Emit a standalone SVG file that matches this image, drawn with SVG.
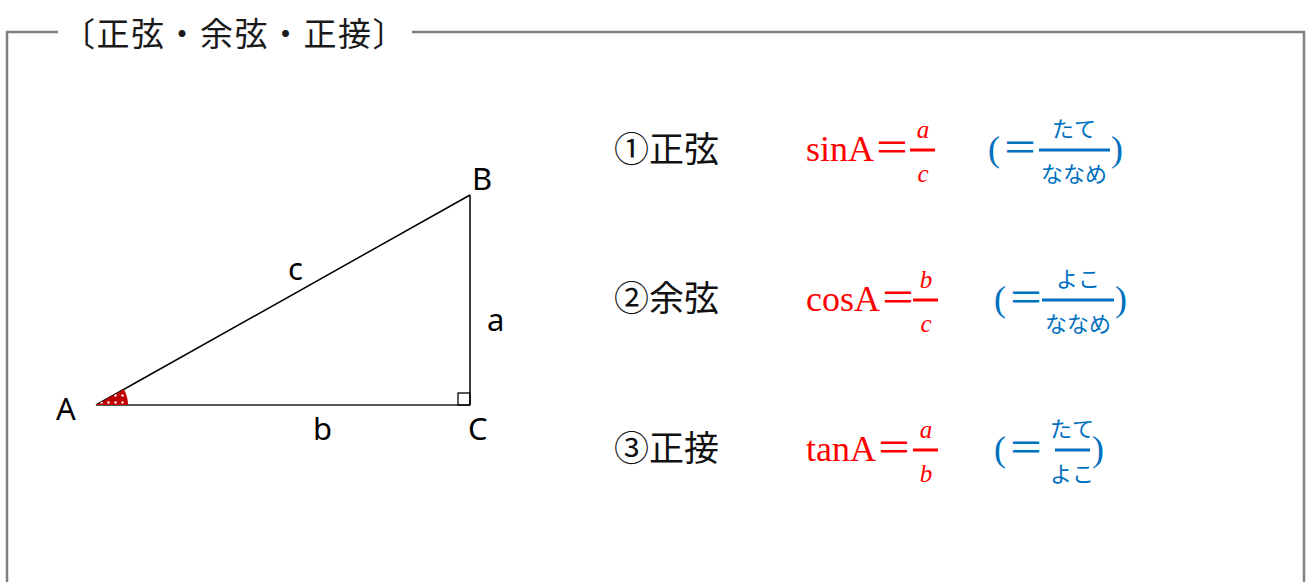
<svg xmlns="http://www.w3.org/2000/svg" width="1307" height="582" viewBox="0 0 1307 582">
<defs>
<style>
.frame{fill:none;stroke:#808080;stroke-width:2.5}
.title{font-family:"Liberation Serif","Noto Sans CJK JP",serif;font-size:33px;letter-spacing:1.5px;fill:#1a1a1a}
.lbl{font-family:"Noto Sans","Noto Sans CJK JP",sans-serif;font-size:31px;fill:#000}
.row{font-family:"Liberation Serif","Noto Sans CJK JP",serif;font-size:35px;fill:#111}
.red{font-family:"Liberation Serif","Noto Sans CJK JP",serif;font-size:36px;fill:#FF0000}
.redi{font-family:"Liberation Serif",serif;font-style:italic;font-size:25px;fill:#FF0000}
.blue{font-family:"Liberation Serif","Noto Sans CJK JP",serif;font-size:36px;fill:#0070C0}
.kana{font-family:"Noto Sans CJK JP",sans-serif;font-size:22px;fill:#0070C0}
.rbar{stroke:#FF0000;stroke-width:3}
.bbar{stroke:#0070C0;stroke-width:3}
</style>
<pattern id="dots" width="7" height="7" patternUnits="userSpaceOnUse">
<rect width="7" height="7" fill="#C00000"/>
<circle cx="3.5" cy="3.5" r="1.2" fill="#fff"/>
</pattern>
</defs>
<rect width="1307" height="582" fill="#fff"/>
<g id="frame">
<path class="frame" d="M58,32 H7 V582 M412,32 H1304 V582"/>
<text class="title" x="62" y="46">〔正弦・余弦・正接〕</text>
</g>
<g id="connectors">
<line x1="96" y1="405" x2="470" y2="195" stroke="#000" stroke-width="1.5"/>
<line x1="470" y1="195" x2="470" y2="405" stroke="#000" stroke-width="1.5"/>
<line x1="96" y1="405" x2="470" y2="405" stroke="#595959" stroke-width="2"/>
<rect x="458" y="393" width="12" height="12" fill="none" stroke="#000" stroke-width="1.3"/>
<path d="M96,405 L128,405 A32,32 0 0 0 123.9,389.3 Z" fill="url(#dots)"/>
</g>
<g id="node-A"><text class="lbl" x="56" y="420">A</text></g>
<g id="node-B"><text class="lbl" x="472" y="190">B</text></g>
<g id="node-C"><text class="lbl" x="468" y="440">C</text></g>
<g id="label-c"><text class="lbl" x="288" y="280">c</text></g>
<g id="label-a"><text class="lbl" x="487" y="331">a</text></g>
<g id="label-b"><text class="lbl" x="313" y="440">b</text></g>
<g id="row-sin">
<text class="row" x="614" y="162">①正弦</text>
<text class="red" x="806" y="161">sinA＝</text>
<text class="redi" x="923" y="138" text-anchor="middle">a</text>
<line class="rbar" x1="910" y1="150" x2="935" y2="150"/>
<text class="redi" x="923" y="182" text-anchor="middle">c</text>
<text class="blue" x="988" y="161">(</text>
<text class="blue" x="1002" y="161">＝</text>
<line class="bbar" x1="1039" y1="150" x2="1110" y2="150"/>
<text class="kana" x="1074" y="137" text-anchor="middle">たて</text>
<text class="kana" x="1074" y="182" text-anchor="middle">ななめ</text>
<text class="blue" x="1111" y="161">)</text>
</g>
<g id="row-cos">
<text class="row" x="614" y="311">②余弦</text>
<text class="red" x="806" y="311">cosA＝</text>
<text class="redi" x="926" y="288" text-anchor="middle">b</text>
<line class="rbar" x1="913" y1="300" x2="938" y2="300"/>
<text class="redi" x="926" y="332" text-anchor="middle">c</text>
<text class="blue" x="994" y="311">(</text>
<text class="blue" x="1008" y="311">＝</text>
<line class="bbar" x1="1042" y1="300" x2="1114" y2="300"/>
<text class="kana" x="1078" y="287" text-anchor="middle">よこ</text>
<text class="kana" x="1078" y="332" text-anchor="middle">ななめ</text>
<text class="blue" x="1115" y="311">)</text>
</g>
<g id="row-tan">
<text class="row" x="614" y="461">③正接</text>
<text class="red" x="806" y="461">tanA＝</text>
<text class="redi" x="926" y="438" text-anchor="middle">a</text>
<line class="rbar" x1="913" y1="450" x2="938" y2="450"/>
<text class="redi" x="926" y="482" text-anchor="middle">b</text>
<text class="blue" x="994" y="461">(</text>
<text class="blue" x="1008" y="461">＝</text>
<line class="bbar" x1="1055" y1="450" x2="1090" y2="450"/>
<text class="kana" x="1072" y="437" text-anchor="middle">たて</text>
<text class="kana" x="1072" y="482" text-anchor="middle">よこ</text>
<text class="blue" x="1092" y="461">)</text>
</g>
</svg>
